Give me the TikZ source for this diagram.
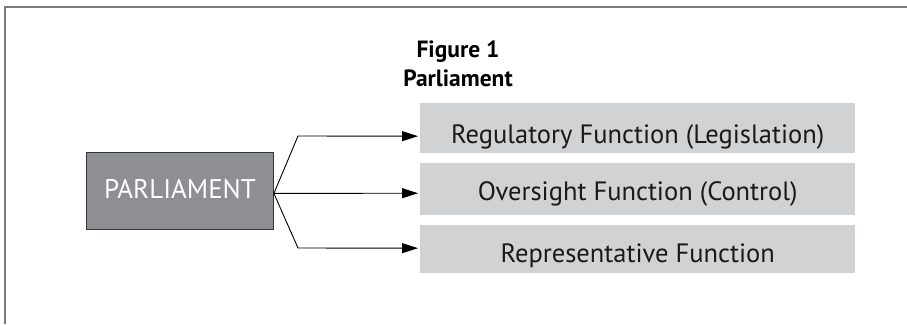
\documentclass[tikz,border=0pt]{standalone}
\usepackage{fontspec}
\setmainfont{PT Sans}
\usetikzlibrary{arrows.meta}
\definecolor{fnfill}{HTML}{D1D2D4}
\definecolor{parfill}{HTML}{8E8F93}
\definecolor{frameline}{HTML}{7A7A7A}
\begin{document}
\begin{tikzpicture}[x=1pt,y=-1pt,
  fnbox/.style={fill=fnfill, inner sep=0pt, minimum width=435pt, anchor=north west,
    font=\fontsize{26.5}{30}\selectfont, text=black!90},
  parbox/.style={fill=parfill, draw=black!80, line width=0.9pt, inner sep=0pt,
    minimum width=187pt, minimum height=77pt, text height=46pt, text depth=31pt,
    anchor=north west, font=\fontsize{27}{30}\selectfont, text=white},
  link/.style={line width=0.9pt, -{Triangle[length=16pt,width=10pt]}, shorten >=2pt},
  title/.style={font=\bfseries\fontsize{23.5}{28}\selectfont, anchor=base}]
\useasboundingbox (0,0) rectangle (907,324);
% outer frame, top and left edges only
\draw[frameline, line width=2pt] (4.5,324) -- (4.5,7) -- (907,7);
% heading
\node[title] (head1) at (458,57) {Figure 1};
\node[title] (head2) at (458,86) {Parliament};
% the institution and its three functions
\node[parbox] (parl) at (86,152) {PARLIAMENT};
\node[fnbox, minimum height=50pt, text height=40pt, text depth=10pt] (fn1) at (420,103)
  {Regulatory Function (Legislation)};
\node[fnbox, minimum height=52pt, text height=37pt, text depth=15pt] (fn2) at (420,163)
  {Oversight Function (Control)};
\node[fnbox, minimum height=48pt, text height=37pt, text depth=11pt] (fn3) at (420,225)
  {Representative Function};
% branching connectors
\coordinate (hub) at ([yshift=-2.5pt]parl.east);
\coordinate (bendA) at (298,136);
\coordinate (bendC) at (298,248);
\draw[link] (hub) -- (bendA) -- ([yshift=-8pt]fn1.west);
\draw[link] (hub) -- ([yshift=-4pt]fn2.west);
\draw[link] (hub) -- (bendC) -- ([yshift=1pt]fn3.west);
\end{tikzpicture}
\end{document}
